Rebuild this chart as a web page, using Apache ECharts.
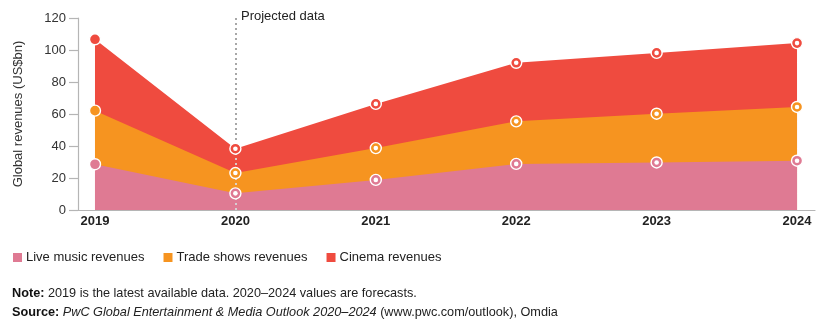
<!DOCTYPE html>
<html>
<head>
<meta charset="utf-8">
<script src="https://cdn.jsdelivr.net/npm/echarts@6/dist/echarts.min.js"></script>
<style>html,body{margin:0;padding:0;background:#fff;}#c{width:820px;height:327px;}</style>
</head>
<body>
<div id="c"></div>
<script>
const years = [2019, 2020, 2021, 2022, 2023, 2024];
const liveMusic = [28.6, 10.4, 18.8, 28.8, 29.7, 30.8];
const tradeShows = [33.5, 12.7, 19.9, 26.6, 30.5, 33.6];
const cinema = [44.6, 15.2, 27.6, 36.6, 38.0, 39.9];
const yTicks = [0, 20, 40, 60, 80, 100, 120];
const seriesNames = ['Live music revenues', 'Trade shows revenues', 'Cinema revenues'];
const projectedYear = 2020;

const colors = ['#df7a93', '#f69420', '#ef4b3f'];
const FONT = '"Liberation Sans", Arial, sans-serif';
const layers = [liveMusic, tradeShows, cinema];
const cum = [];
layers.forEach((arr, i) => {
  cum.push(arr.map((v, j) => +(v + (i ? cum[i - 1][j] : 0)).toFixed(2)));
});

const series = [];
// gray projected line behind areas
series.push({
  type: 'line', data: [], z: 1, silent: true,
  markLine: {
    silent: true, symbol: 'none', label: { show: false },
    lineStyle: { color: '#8a8a8a', type: [2, 3], width: 1.5 },
    data: [{ xAxis: projectedYear }]
  }
});
// areas: cumulative totals, drawn top layer first so lower layers cover them
layers.forEach((arr, i) => {
  series.push({
    name: seriesNames[i], type: 'line', z: 2 + (2 - i) * 0 ,
    zlevel: 0,
    data: years.map((y, j) => [y, cum[i][j]]),
    showSymbol: false, symbol: 'none',
    lineStyle: { width: 0, color: colors[i] },
    itemStyle: { color: colors[i] },
    areaStyle: { color: colors[i], opacity: 1, origin: 'start' },
    emphasis: { disabled: true }
  });
});
// reorder so the largest total is drawn first
const areaSeries = series.splice(1, 3).reverse();
areaSeries.forEach((s, k) => { s.z = 2; s.z2 = k; });
series.push(...areaSeries);
// white dotted line over areas
series.push({
  type: 'line', data: [], z: 3, silent: true,
  markLine: {
    silent: true, symbol: 'none', label: { show: false },
    lineStyle: { color: 'rgba(255,255,255,0.8)', type: [2, 3], width: 1.5 },
    data: [[{ coord: [projectedYear, 0] }, { coord: [projectedYear, cum[2][years.indexOf(projectedYear)]] }]]
  }
});
// markers
layers.forEach((arr, i) => {
  series.push({
    type: 'scatter', z: 5, silent: true,
    data: years.map((y, j) => [y, cum[i][j]]),
    symbol: 'circle', symbolSize: 11,
    itemStyle: { color: colors[i], borderColor: '#fff', borderWidth: 1.4, opacity: 1 }
  });
  series.push({
    type: 'scatter', z: 6, silent: true,
    data: years.filter(y => y >= projectedYear).map(y => [y, cum[i][years.indexOf(y)]]),
    symbol: 'circle', symbolSize: 4.6,
    itemStyle: { color: '#fff', opacity: 1 }
  });
});

const chart = echarts.init(document.getElementById('c'), null, { renderer: 'canvas' });
chart.setOption({
  animation: false,
  textStyle: { fontFamily: FONT },
  grid: { left: 78, right: 5, top: 18, height: 192 },
  xAxis: {
    type: 'value', min: 2018.879, max: 2024.128,
    splitLine: { show: false },
    axisLine: { show: true, lineStyle: { color: '#b5b5b5', width: 1.2 } },
    axisTick: { show: false },
    axisLabel: {
      customValues: years, margin: 5,
      fontFamily: FONT, fontSize: 13, fontWeight: 'bold', color: '#222',
      formatter: v => String(v)
    }
  },
  yAxis: {
    type: 'value', min: 0, max: 120, interval: 20,
    name: 'Global revenues (US$bn)', nameLocation: 'middle', nameGap: 53,
    nameTextStyle: { fontFamily: FONT, fontSize: 13, color: '#333' },
    splitLine: { show: false },
    axisLine: { show: true, lineStyle: { color: '#b5b5b5', width: 1.2 } },
    axisTick: { show: true, length: 9, lineStyle: { color: '#b5b5b5', width: 1.2 } },
    axisLabel: {
      customValues: yTicks, margin: 12,
      fontFamily: FONT, fontSize: 13, color: '#333'
    }
  },
  legend: {
    left: 8, top: 246, icon: 'rect', itemWidth: 9, itemHeight: 9, itemGap: 19,
    selectedMode: false,
    textStyle: { fontFamily: FONT, fontSize: 13, color: '#222', padding: [0, 0, 0, -1] },
    data: seriesNames.map((n, i) => ({ name: n, itemStyle: { color: colors[i] } }))
  },
  graphic: [
    {
      type: 'text', left: 241, top: 10,
      style: { text: 'Projected data', font: '13px ' + FONT, fill: '#222' }
    },
    {
      type: 'text', left: 12, top: 287,
      style: {
        text: '{b|Note:} 2019 is the latest available data. 2020–2024 values are forecasts.',
        font: '12.7px ' + FONT, fill: '#222',
        rich: { b: { fontWeight: 'bold', fontSize: 12.7, fontFamily: FONT, fill: '#111' } }
      }
    },
    {
      type: 'text', left: 12, top: 306,
      style: {
        text: '{b|Source:} {i|PwC Global Entertainment & Media Outlook 2020–2024} (www.pwc.com/outlook), Omdia',
        font: '12.7px ' + FONT, fill: '#222',
        rich: {
          b: { fontWeight: 'bold', fontSize: 12.7, fontFamily: FONT, fill: '#111' },
          i: { fontStyle: 'italic', fontSize: 12.7, fontFamily: FONT, fill: '#222' }
        }
      }
    }
  ],
  series: series
});
</script>
</body>
</html>
